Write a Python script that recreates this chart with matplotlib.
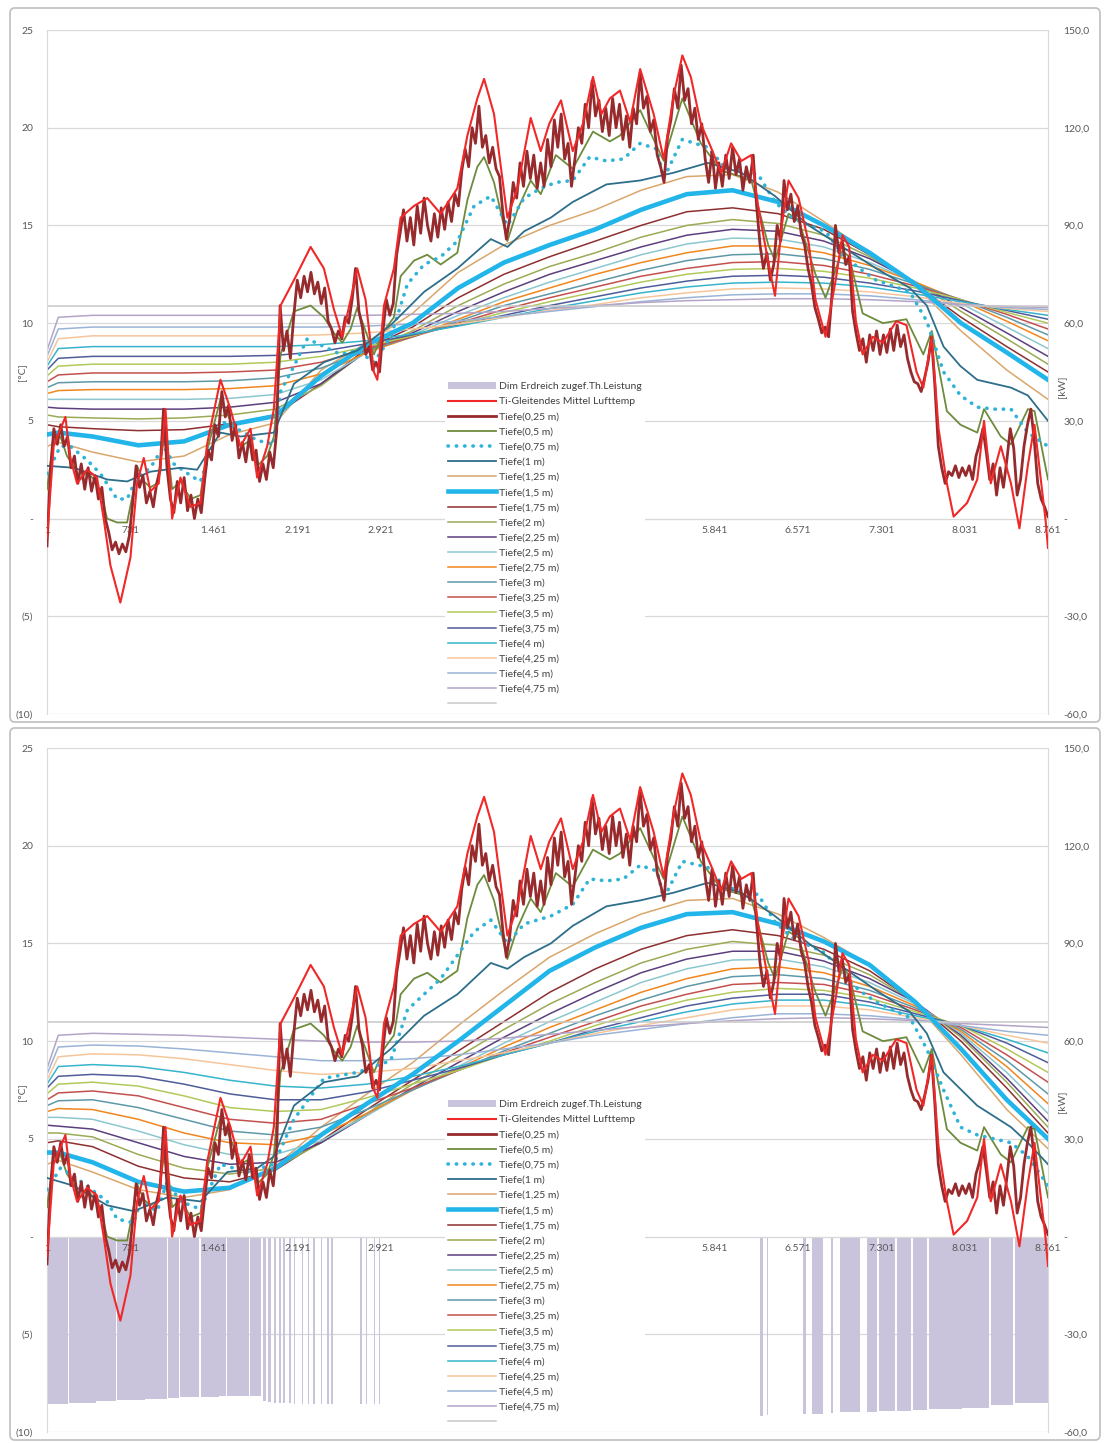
#!/usr/bin/env python3

import numpy as np
import matplotlib
matplotlib.use('Agg')
import matplotlib.pyplot as plt
from matplotlib.patches import FancyBboxPatch, Patch

plt.rcParams['font.family'] = ['Lato', 'DejaVu Sans']

# x axis (hours of the year) and the two y axes;
# the labels 3.651 .. 5.111 sit under the legend in the original, so they stay blank
X_TICKS = [1, 731, 1461, 2191, 2921, 3651, 4381, 5111, 5841, 6571, 7301, 8031, 8761]
X_LABELS = ['1', '731', '1.461', '2.191', '2.921', '', '', '',
            '5.841', '6.571', '7.301', '8.031', '8.761']
T_TICKS = [-10, -5, 0, 5, 10, 15, 20, 25]
T_LABELS = ['(10)', '(5)', '-', '5', '10', '15', '20', '25']
KW_TICKS = [-60, -30, 0, 30, 60, 90, 120, 150]
KW_LABELS = ['-60,0', '-30,0', '-', '30,0', '60,0', '90,0', '120,0', '150,0']

LABELS = ['Dim Erdreich zugef.Th.Leistung', 'Ti-Gleitendes Mittel Lufttemp',
          'Tiefe(0,25 m)', 'Tiefe(0,5 m)', 'Tiefe(0,75 m)', 'Tiefe(1 m)', 'Tiefe(1,25 m)',
          'Tiefe(1,5 m)', 'Tiefe(1,75 m)', 'Tiefe(2 m)', 'Tiefe(2,25 m)', 'Tiefe(2,5 m)',
          'Tiefe(2,75 m)', 'Tiefe(3 m)', 'Tiefe(3,25 m)', 'Tiefe(3,5 m)', 'Tiefe(3,75 m)',
          'Tiefe(4 m)', 'Tiefe(4,25 m)', 'Tiefe(4,5 m)', 'Tiefe(4,75 m)', '']

DEPTH_COLORS = ['#962a2c', '#6e8b3d', '#2fb4d8', '#2d6e8a', '#d9a66b', '#22b5ea', '#8e2f2f',
                '#9aaa55', '#5c3f7e', '#8cc7cf', '#f0861e', '#5e98a8', '#c4504e', '#b1c95a',
                '#4e5d9a', '#36b4cc', '#f7c59a', '#9ab3d6', '#b3a4c8', '#c8c8c8']
RED = '#f02828'
BAR_COLOR = '#c9c4dc'
GRID = '#d9d9d9'
TEXT = '#595959'

# moving average of the air temperature (hour, degC), same in both charts
AIR_MEAN = [(1, -1.0), (59, 3.7), (162, 5.2), (205, 3.1), (264, 1.8), (351, 2.5), (439, 2.1),
            (497, 0.0), (556, -2.4), (643, -4.3), (731, -2.0), (789, 1.8), (848, 3.1), (906, 1.4),
            (979, 1.8), (1038, 5.6), (1096, 0.0), (1169, 2.1), (1256, 0.6), (1344, 0.8), (1402, 3.8),
            (1519, 7.1), (1607, 5.6), (1694, 3.7), (1782, 4.6), (1840, 2.1), (1928, 3.7), (1986, 5.6),
            (2045, 10.9), (2162, 12.2), (2308, 13.9), (2424, 12.8), (2512, 10.7), (2585, 9.3),
            (2658, 11.2), (2716, 12.8), (2789, 11.2), (2862, 7.5), (2892, 7.1), (2950, 10.9),
            (3037, 12.8), (3096, 15.4), (3213, 16.0), (3329, 16.4), (3446, 15.6), (3592, 16.9),
            (3680, 19.6), (3767, 21.5), (3826, 22.5), (3913, 20.7), (4030, 15.4), (4118, 16.9),
            (4234, 20.5), (4322, 18.8), (4396, 20.2), (4499, 21.4), (4602, 18.8), (4691, 20.2),
            (4779, 22.6), (4853, 20.7), (4927, 21.5), (5015, 21.9), (5104, 20.3), (5192, 23.0),
            (5310, 20.7), (5398, 18.4), (5487, 21.7), (5561, 23.7), (5635, 22.6), (5723, 20.2),
            (5811, 19.0), (5900, 17.7), (5988, 19.2), (6077, 18.3), (6165, 18.6), (6224, 16.0),
            (6313, 13.1), (6372, 11.4), (6431, 15.0), (6490, 17.3), (6578, 16.4), (6667, 14.1),
            (6726, 11.2), (6814, 9.3), (6903, 12.2), (6962, 14.5), (7021, 13.9), (7080, 10.1),
            (7139, 8.4), (7227, 9.3), (7316, 9.0), (7434, 10.1), (7522, 9.9), (7611, 7.5),
            (7670, 6.7), (7744, 9.3), (7803, 4.6), (7876, 1.8), (7935, 0.1), (8053, 0.8),
            (8142, 2.0), (8201, 5.0), (8260, 1.8), (8348, 3.7), (8437, 1.8), (8511, -0.5),
            (8584, 2.7), (8643, 4.8), (8702, 1.8), (8740, -0.1), (8761, -1.5)]

# Tiefe 0,25 m, read every 30 hours from hour 1 to 8761
T025 = [-1.4, 2.5, 4.6, 3.8, 4.8, 3.7, 4.2, 2.6, 3.2, 1.8,
        2.8, 1.5, 2.6, 1.4, 2.2, 1.0, 1.6, 0.0, -0.7, -1.6,
        -1.2, -1.8, -1.3, -1.7, -0.9, 0.8, 2.7, 1.6, 2.2, 0.8,
        1.4, 0.6, 1.8, 2.5, 5.6, 2.6, 1.0, 0.3, 1.9, 0.8,
        2.1, 0.4, 1.2, 0.0, 1.0, 0.3, 2.0, 3.5, 3.0, 4.8,
        4.2, 6.5, 5.2, 5.8, 4.0, 4.8, 3.1, 3.9, 2.9, 4.2,
        3.0, 3.5, 1.9, 2.8, 2.0, 3.4, 2.6, 4.5, 10.9, 8.6,
        9.6, 8.2, 10.4, 12.2, 11.3, 12.4, 11.6, 12.6, 11.5, 12.1,
        11.0, 11.8, 10.1, 9.7, 9.0, 9.6, 9.2, 10.3, 10.0, 11.2,
        12.8, 10.6, 9.8, 8.4, 8.8, 7.6, 8.0, 7.5, 9.6, 11.2,
        10.4, 11.0, 13.5, 14.6, 15.8, 14.2, 15.4, 14.0, 16.0, 14.6,
        16.4, 15.0, 14.2, 15.6, 14.4, 15.9, 14.8, 16.2, 15.2, 16.6,
        16.0, 17.8, 18.9, 18.0, 20.0, 19.2, 21.1, 19.0, 19.6, 18.2,
        19.0, 17.9, 17.5, 15.6, 14.3, 15.4, 17.2, 16.4, 18.2, 17.0,
        18.8, 17.4, 18.6, 16.9, 18.2, 17.0, 19.4, 18.0, 20.4, 19.0,
        20.7, 18.4, 19.2, 17.0, 18.4, 20.0, 19.2, 21.2, 20.0, 22.4,
        20.6, 21.4, 19.8, 21.0, 19.6, 21.5, 20.0, 21.2, 19.4, 20.6,
        19.0, 21.0, 20.2, 22.8, 21.0, 21.6, 19.8, 20.4, 18.6, 18.0,
        17.2, 19.5, 20.4, 22.0, 21.0, 23.2, 21.4, 22.0, 20.2, 21.0,
        19.4, 20.2, 18.4, 17.2, 18.8, 16.9, 18.2, 17.0, 18.6, 17.4,
        19.0, 17.6, 18.4, 16.8, 18.0, 17.2, 18.6, 16.0, 14.0, 12.8,
        13.6, 12.2, 13.0, 15.0, 14.2, 17.3, 15.8, 16.6, 15.2, 16.0,
        14.6, 14.0, 12.8, 12.0, 10.8, 10.2, 9.5, 9.8, 9.3, 11.5,
        15.0, 13.6, 14.2, 13.0, 13.4, 10.6, 9.5, 8.6, 9.2, 8.0,
        9.4, 8.6, 9.6, 8.4, 9.4, 8.5, 9.7, 8.6, 9.9, 8.8,
        9.4, 8.2, 7.5, 7.0, 6.9, 6.5, 7.2, 8.0, 9.3, 6.8,
        3.7, 2.6, 1.8, 2.4, 2.2, 2.7, 2.1, 2.6, 2.2, 2.7,
        2.0, 3.2, 3.8, 4.6, 3.4, 2.0, 2.8, 1.2, 2.6, 1.6,
        3.0, 4.6, 3.6, 1.2, 2.0, 3.7, 4.8, 5.6, 4.0, 1.8,
        1.0, 0.6, 0.1]

# Tiefe 0,5 m (hour, degC), same in both charts
T050 = [(1, 1.5), (59, 4.0), (118, 4.2), (176, 3.2), (235, 2.7), (293, 2.0), (351, 2.4),
        (410, 2.0), (468, 1.4), (527, 0.0), (614, -0.2), (702, -0.2), (760, 1.5), (789, 2.7),
        (848, 1.9), (906, 1.6), (965, 1.8), (1038, 4.6), (1096, 1.5), (1169, 1.9), (1257, 1.0),
        (1344, 1.2), (1403, 3.5), (1519, 6.1), (1607, 5.0), (1695, 3.7), (1782, 4.0), (1841, 2.7),
        (1928, 3.2), (1987, 4.2), (2045, 8.4), (2162, 10.6), (2308, 10.9), (2424, 10.3),
        (2512, 9.5), (2585, 9.0), (2658, 9.7), (2716, 10.8), (2789, 9.6), (2862, 8.4), (2950, 9.6),
        (3037, 10.3), (3096, 12.4), (3213, 13.2), (3329, 13.5), (3446, 13.0), (3592, 13.6),
        (3680, 16.3), (3767, 18.0), (3826, 18.5), (3913, 17.2), (4030, 14.2), (4118, 15.8),
        (4234, 17.3), (4322, 16.6), (4454, 18.6), (4602, 17.9), (4779, 19.8), (4927, 19.3),
        (5015, 19.6), (5192, 20.9), (5310, 19.4), (5398, 18.3), (5561, 21.5), (5723, 19.2),
        (5900, 17.8), (6077, 17.5), (6165, 17.3), (6313, 14.0), (6372, 13.2), (6490, 15.6),
        (6578, 15.3), (6726, 12.5), (6814, 11.3), (6962, 13.7), (7021, 13.4), (7139, 10.5),
        (7316, 10.0), (7522, 10.2), (7670, 8.4), (7744, 9.6), (7876, 5.5), (7995, 4.8),
        (8142, 4.4), (8201, 5.6), (8348, 4.2), (8437, 3.8), (8585, 5.6), (8643, 5.5), (8761, 2.0)]

# Tiefe 0,75 m and 1 m (hour, degC), top chart (A) and bottom chart (B)
A_T075 = [(1, 2.3), (118, 3.7), (205, 3.7), (351, 3.0), (468, 2.3), (614, 1.0), (702, 1.0),
          (789, 2.1), (906, 2.6), (1023, 3.7), (1111, 2.8), (1257, 2.2), (1344, 1.9), (1519, 5.0),
          (1695, 4.5), (1841, 4.0), (1987, 3.8), (2045, 6.5), (2162, 7.8), (2279, 9.2), (2425, 8.8),
          (2571, 8.4), (2717, 8.6), (2863, 8.0), (3009, 9.3), (3155, 12.0), (3301, 13.0),
          (3447, 13.4), (3593, 14.2), (3739, 16.0), (3885, 16.5), (4031, 15.0), (4177, 16.4),
          (4323, 16.9), (4454, 17.2), (4602, 17.3), (4750, 18.5), (4897, 18.3), (5045, 18.4),
          (5192, 19.2), (5340, 18.9), (5398, 17.4), (5561, 19.4), (5782, 19.0), (5930, 18.0),
          (6077, 17.8), (6225, 17.6), (6372, 16.2), (6520, 15.4), (6667, 15.0), (6815, 14.7),
          (6962, 13.5), (7110, 12.8), (7257, 12.2), (7405, 11.9), (7552, 11.6), (7700, 10.1),
          (7847, 7.5), (7995, 6.3), (8142, 5.7), (8290, 5.6), (8437, 5.6), (8585, 4.4), (8761, 3.7)]
B_T075 = [(1, 2.4), (118, 3.5), (235, 3.1), (527, 1.8), (614, 0.9), (760, 0.7), (819, 1.8),
          (965, 1.3), (1052, 2.8), (1169, 1.8), (1344, 1.4), (1519, 3.7), (1753, 3.3), (1987, 3.7),
          (2162, 6.0), (2425, 8.1), (2717, 8.4), (3009, 9.0), (3155, 11.6), (3447, 13.2),
          (3739, 15.6), (3885, 16.2), (4031, 15.0), (4177, 16.0), (4410, 16.4), (4602, 17.0),
          (4750, 18.3), (4897, 18.2), (5045, 18.3), (5192, 19.0), (5340, 18.7), (5398, 17.3),
          (5561, 19.2), (5782, 18.9), (5930, 17.9), (6077, 17.7), (6225, 17.5), (6372, 16.1),
          (6520, 15.3), (6667, 14.9), (6815, 14.5), (6962, 13.4), (7110, 12.6), (7257, 12.0),
          (7405, 11.6), (7552, 11.2), (7700, 9.6), (7847, 7.5), (7995, 5.6), (8142, 5.2),
          (8437, 4.8), (8585, 4.1), (8761, 2.6)]
A_T100 = [(1, 2.7), (235, 2.6), (527, 2.0), (702, 1.9), (906, 2.4), (1169, 2.6), (1315, 2.5),
          (1519, 4.4), (1695, 4.2), (1987, 4.4), (2162, 6.9), (2425, 8.0), (2717, 8.6), (3009, 9.9),
          (3301, 11.6), (3593, 12.8), (3885, 14.3), (4031, 13.9), (4177, 14.7), (4410, 15.4),
          (4602, 16.2), (4897, 17.1), (5192, 17.3), (5487, 17.7), (5782, 18.2), (6077, 17.7),
          (6372, 16.5), (6667, 15.0), (6962, 13.9), (7257, 12.8), (7552, 11.8), (7700, 10.9),
          (7847, 8.8), (7995, 7.8), (8142, 7.1), (8437, 6.7), (8585, 6.3), (8761, 5.0)]
B_T100 = [(1, 3.0), (235, 2.6), (527, 1.6), (760, 1.3), (1052, 2.0), (1344, 1.8), (1578, 3.3),
          (1841, 3.5), (1987, 4.1), (2162, 6.7), (2425, 7.9), (2717, 8.2), (3009, 9.6), (3301, 11.3),
          (3593, 12.4), (3885, 14.0), (4031, 13.7), (4177, 14.3), (4410, 15.0), (4602, 15.9),
          (4897, 16.9), (5192, 17.2), (5487, 17.6), (5782, 18.1), (6077, 17.6), (6372, 16.4),
          (6667, 15.0), (6962, 13.8), (7257, 12.6), (7552, 11.5), (7700, 10.4), (7847, 8.4),
          (8142, 6.7), (8437, 5.6), (8585, 4.8), (8761, 3.7)]

# deeper layers, read at these hours
HOURS_DEEP = [1, 100, 400, 800, 1200, 1600, 2000, 2400, 2800, 3200, 3600, 4000,
              4400, 4800, 5200, 5600, 6000, 6400, 6800, 7200, 7600, 8000, 8400, 8761]

A_T125 = [3.7, 3.9, 3.4, 2.9, 3.2, 4.3, 4.9, 7.6, 9.0, 10.5, 12.6, 14.0, 15.0, 15.8, 16.8, 17.5, 17.6, 16.7, 15.2, 13.6, 11.9, 9.6, 7.6, 6.1]
A_T150 = [4.3, 4.4, 4.2, 3.75, 3.95, 4.8, 5.25, 7.3, 8.9, 10.0, 11.8, 13.1, 14.0, 14.8, 15.8, 16.6, 16.8, 16.2, 15.0, 13.6, 12.0, 10.0, 8.5, 7.1]
A_T175 = [4.8, 4.7, 4.6, 4.5, 4.55, 4.85, 5.3, 6.9, 8.7, 9.8, 11.3, 12.5, 13.4, 14.2, 15.0, 15.7, 15.9, 15.6, 14.8, 13.5, 12.0, 10.3, 8.8, 7.5]
A_T200 = [5.3, 5.2, 5.15, 5.1, 5.15, 5.3, 5.6, 6.8, 8.6, 9.6, 10.9, 12.0, 12.9, 13.6, 14.4, 15.0, 15.3, 15.1, 14.5, 13.4, 12.1, 10.6, 9.2, 7.9]
A_T225 = [5.7, 5.65, 5.6, 5.6, 5.6, 5.7, 5.95, 6.9, 8.55, 9.5, 10.6, 11.6, 12.5, 13.2, 13.9, 14.5, 14.8, 14.7, 14.2, 13.3, 12.1, 10.8, 9.5, 8.3]
A_T250 = [6.1, 6.1, 6.1, 6.1, 6.1, 6.15, 6.35, 7.1, 8.5, 9.4, 10.4, 11.3, 12.1, 12.8, 13.5, 14.05, 14.35, 14.3, 13.9, 13.1, 12.1, 11.0, 9.8, 8.7]
A_T275 = [6.4, 6.55, 6.6, 6.6, 6.6, 6.65, 6.8, 7.4, 8.5, 9.3, 10.2, 11.1, 11.8, 12.5, 13.1, 13.6, 13.95, 13.95, 13.6, 12.95, 12.1, 11.15, 10.1, 9.1]
A_T300 = [6.7, 6.95, 7.0, 7.0, 7.0, 7.05, 7.2, 7.7, 8.6, 9.3, 10.1, 10.9, 11.5, 12.1, 12.7, 13.2, 13.5, 13.55, 13.3, 12.75, 12.0, 11.2, 10.3, 9.4]
A_T325 = [7.0, 7.35, 7.45, 7.45, 7.45, 7.5, 7.6, 8.0, 8.7, 9.3, 10.0, 10.7, 11.3, 11.85, 12.4, 12.8, 13.1, 13.15, 12.95, 12.5, 11.9, 11.2, 10.45, 9.7]
A_T350 = [7.3, 7.8, 7.9, 7.9, 7.9, 7.9, 8.0, 8.3, 8.8, 9.35, 9.95, 10.55, 11.1, 11.6, 12.1, 12.5, 12.75, 12.8, 12.65, 12.3, 11.8, 11.2, 10.55, 10.0]
A_T375 = [7.6, 8.2, 8.3, 8.3, 8.3, 8.3, 8.35, 8.55, 8.95, 9.4, 9.9, 10.4, 10.9, 11.35, 11.8, 12.15, 12.4, 12.45, 12.35, 12.05, 11.65, 11.15, 10.65, 10.2]
A_T400 = [7.8, 8.7, 8.8, 8.8, 8.8, 8.8, 8.8, 8.9, 9.1, 9.45, 9.85, 10.3, 10.75, 11.15, 11.55, 11.85, 12.05, 12.1, 12.05, 11.85, 11.5, 11.1, 10.7, 10.4]
A_T425 = [8.0, 9.2, 9.35, 9.35, 9.35, 9.35, 9.35, 9.4, 9.5, 9.7, 9.95, 10.3, 10.65, 10.95, 11.3, 11.55, 11.75, 11.8, 11.75, 11.6, 11.35, 11.0, 10.75, 10.6]
A_T450 = [8.3, 9.7, 9.8, 9.8, 9.8, 9.8, 9.8, 9.8, 9.85, 9.95, 10.1, 10.35, 10.6, 10.85, 11.1, 11.3, 11.45, 11.5, 11.5, 11.4, 11.2, 10.95, 10.8, 10.7]
A_T475 = [8.6, 10.3, 10.4, 10.4, 10.4, 10.4, 10.4, 10.4, 10.4, 10.45, 10.5, 10.6, 10.75, 10.9, 11.05, 11.15, 11.2, 11.25, 11.25, 11.2, 11.1, 10.95, 10.85, 10.8]
A_T500 = [10.9, 10.9, 10.9, 10.9, 10.9, 10.9, 10.9, 10.9, 10.9, 10.9, 10.9, 10.9, 10.9, 10.9, 10.9, 10.9, 10.9, 10.9, 10.9, 10.9, 10.9, 10.9, 10.9, 10.9]

B_T125 = [3.7, 3.9, 3.3, 2.4, 2.0, 2.4, 3.6, 5.6, 7.3, 8.9, 10.8, 12.6, 14.3, 15.5, 16.5, 17.2, 17.3, 16.5, 15.3, 13.9, 11.9, 9.3, 6.5, 4.5]
B_T150 = [4.3, 4.3, 3.8, 2.8, 2.3, 2.5, 3.5, 5.2, 6.8, 8.3, 10.0, 11.8, 13.6, 14.8, 15.8, 16.5, 16.6, 16.0, 15.1, 13.9, 12.0, 9.6, 7.0, 5.0]
B_T175 = [4.8, 4.9, 4.6, 3.6, 3.0, 2.8, 3.4, 4.9, 6.5, 8.0, 9.5, 11.0, 12.5, 13.7, 14.7, 15.4, 15.7, 15.4, 14.7, 13.6, 12.0, 10.0, 7.6, 5.3]
B_T200 = [5.3, 5.3, 5.1, 4.2, 3.5, 3.2, 3.5, 4.8, 6.3, 7.8, 9.2, 10.6, 11.9, 13.0, 14.0, 14.7, 15.1, 14.9, 14.4, 13.4, 12.0, 10.2, 7.9, 5.6]
B_T225 = [5.7, 5.65, 5.5, 4.8, 4.1, 3.7, 3.8, 4.8, 6.2, 7.6, 8.9, 10.2, 11.4, 12.5, 13.5, 14.2, 14.6, 14.6, 14.1, 13.2, 12.0, 10.3, 8.1, 5.9]
B_T250 = [6.1, 6.1, 6.0, 5.4, 4.7, 4.2, 4.2, 4.9, 6.2, 7.5, 8.7, 9.9, 11.0, 12.0, 13.0, 13.7, 14.15, 14.2, 13.8, 13.0, 11.9, 10.4, 8.4, 6.3]
B_T275 = [6.4, 6.55, 6.5, 6.0, 5.3, 4.8, 4.7, 5.2, 6.3, 7.5, 8.6, 9.7, 10.7, 11.6, 12.5, 13.2, 13.7, 13.8, 13.5, 12.8, 11.8, 10.5, 8.7, 6.8]
B_T300 = [6.7, 6.95, 7.0, 6.6, 6.0, 5.4, 5.2, 5.6, 6.5, 7.5, 8.5, 9.5, 10.4, 11.3, 12.1, 12.8, 13.3, 13.4, 13.2, 12.6, 11.7, 10.6, 9.0, 7.3]
B_T325 = [7.0, 7.35, 7.45, 7.2, 6.6, 6.0, 5.8, 6.0, 6.8, 7.6, 8.5, 9.4, 10.2, 11.0, 11.8, 12.4, 12.9, 13.0, 12.9, 12.4, 11.6, 10.7, 9.3, 7.9]
B_T350 = [7.3, 7.8, 7.9, 7.7, 7.2, 6.6, 6.4, 6.5, 7.1, 7.8, 8.5, 9.3, 10.0, 10.8, 11.5, 12.1, 12.5, 12.7, 12.6, 12.2, 11.5, 10.8, 9.6, 8.4]
B_T375 = [7.6, 8.2, 8.3, 8.2, 7.8, 7.3, 7.0, 7.0, 7.4, 8.0, 8.6, 9.3, 9.9, 10.6, 11.2, 11.8, 12.2, 12.4, 12.4, 12.0, 11.4, 10.8, 9.9, 8.9]
B_T400 = [7.8, 8.7, 8.8, 8.7, 8.4, 8.0, 7.7, 7.6, 7.8, 8.2, 8.7, 9.3, 9.9, 10.5, 11.0, 11.5, 11.9, 12.1, 12.1, 11.8, 11.3, 10.8, 10.1, 9.4]
B_T425 = [8.0, 9.2, 9.35, 9.3, 9.1, 8.8, 8.5, 8.3, 8.4, 8.6, 9.0, 9.4, 9.9, 10.4, 10.8, 11.2, 11.6, 11.8, 11.8, 11.6, 11.2, 10.8, 10.3, 9.9]
B_T450 = [8.3, 9.7, 9.8, 9.75, 9.6, 9.4, 9.2, 9.0, 9.0, 9.1, 9.3, 9.6, 9.9, 10.3, 10.6, 10.9, 11.2, 11.4, 11.4, 11.3, 11.1, 10.8, 10.5, 10.3]
B_T475 = [8.6, 10.3, 10.4, 10.35, 10.3, 10.2, 10.1, 10.0, 9.95, 9.95, 10.0, 10.15, 10.35, 10.55, 10.75, 10.9, 11.05, 11.15, 11.2, 11.15, 11.05, 10.9, 10.8, 10.7]
B_T500 = [11.0, 11.0, 11.0, 11.0, 11.0, 11.0, 11.0, 11.0, 11.0, 11.0, 11.0, 11.0, 11.0, 11.0, 11.0, 11.0, 11.0, 11.0, 11.0, 11.0, 11.0, 11.0, 11.0, 11.0]

# heat taken from the ground (bottom chart only): running periods and kW
BAR_START = [1, 190, 430, 610, 860, 1060, 1165, 1290, 1345, 1510, 1575, 1710, 1775, 1890, 1935,
             1985, 2030, 2070, 2120, 2165, 2230, 2285, 2330, 2400, 2450, 2490, 2740, 2790, 2860,
             2905, 6240, 6300, 6620, 6700, 6860, 6940, 7175, 7280, 7440, 7580, 7720, 8010, 8260, 8470]
BAR_END = [184, 426, 606, 855, 1055, 1155, 1285, 1335, 1505, 1566, 1705, 1766, 1872, 1915, 1960,
           2005, 2045, 2085, 2135, 2175, 2245, 2295, 2350, 2410, 2465, 2500, 2760, 2805, 2875,
           2915, 6270, 6310, 6640, 6790, 6880, 7120, 7265, 7425, 7565, 7705, 8005, 8245, 8455, 8761]
BAR_KW = [-51.5, -51.0, -50.5, -50.2, -49.9, -49.6, -49.4, -49.3, -49.2, -49.0, -49.0, -48.9, -48.8,
          -50.5, -50.8, -51.0, -51.0, -51.2, -51.2, -51.3, -51.3, -51.4, -51.4, -51.5, -51.5, -51.5,
          -51.5, -51.5, -51.5, -51.5, -55.0, -54.9, -54.6, -54.5, -54.3, -54.0, -53.8, -53.6, -53.4,
          -53.2, -53.0, -52.5, -51.8, -51.2]


def pairs(points):
    hours, values = zip(*points)
    return list(hours), list(values)


def depth_style(i):
    """Line style of the i-th depth series (0 = 0,25 m)."""
    style = dict(color=DEPTH_COLORS[i], linewidth=1.1, zorder=2)
    if i == 0:
        style.update(linewidth=2.0, zorder=5)
    elif i == 1:
        style.update(linewidth=1.3, zorder=4)
    elif i == 2:
        style.update(linewidth=2.6, linestyle=(0, (0.1, 2.2)), dash_capstyle='round', zorder=4)
    elif i == 3:
        style.update(linewidth=1.3, zorder=4)
    elif i == 5:
        style.update(linewidth=3.3, zorder=3)
    return style


def draw_panel(fig, rect, layers, bars):
    ax = fig.add_axes(rect)
    ax2 = ax.twinx()
    ax.set_zorder(ax2.get_zorder() + 1)
    ax.patch.set_visible(False)

    ax.set_xlim(1, 8761)
    ax.set_ylim(-10, 25)
    ax2.set_ylim(-60, 150)

    # grid lives on the secondary axis so the bars cover it
    ax2.set_yticks(KW_TICKS, KW_LABELS)
    ax2.yaxis.grid(True, color=GRID, linewidth=0.9)
    ax2.set_axisbelow(True)
    ax.set_yticks(T_TICKS, T_LABELS)
    ax.set_xticks(X_TICKS, X_LABELS)

    ax.spines['bottom'].set_position(('data', 0))
    ax.spines['bottom'].set_color(GRID)
    ax.spines['top'].set_visible(False)
    ax.spines['right'].set_visible(False)
    ax.spines['left'].set_color(GRID)
    for side in ('left', 'top', 'bottom'):
        ax2.spines[side].set_visible(False)
    ax2.spines['right'].set_color(GRID)

    ax.tick_params(axis='x', length=0, pad=5, labelsize=7.5, labelcolor=TEXT)
    ax.tick_params(axis='y', length=0, pad=10, labelsize=7.5, labelcolor=TEXT)
    ax2.tick_params(axis='y', length=0, pad=11, labelsize=7.5, labelcolor=TEXT)

    if bars is not None:
        start, end, kw = bars
        ax2.bar(start, kw, width=np.array(end) - np.array(start), align='edge',
                color=BAR_COLOR, linewidth=0, zorder=1)

    handles = [Patch(facecolor=BAR_COLOR, edgecolor='none')]
    x, y = pairs(AIR_MEAN)
    handles += ax.plot(x, y, color=RED, linewidth=1.5, zorder=6)
    for i, (x, y) in enumerate(layers):
        handles += ax.plot(x, y, **depth_style(i))

    leg = ax.legend(handles, LABELS, loc='upper left', bbox_to_anchor=(0.3976, 0.49),
                    frameon=True, facecolor='white', edgecolor='none', framealpha=1,
                    fontsize=7.5, handlelength=4.6, handletextpad=0.3, labelspacing=0.56,
                    borderpad=0.3, borderaxespad=0)
    for text in leg.get_texts():
        text.set_color('#404040')
    leg.set_zorder(10)
    return ax, ax2


def layer_list(t075, t100, deep):
    brown_hours = np.linspace(1, 8761, len(T025))
    layers = [(brown_hours, T025), pairs(T050), pairs(t075), pairs(t100)]
    for values in deep:
        layers.append((HOURS_DEEP, values))
    return layers


def main():
    fig = plt.figure(figsize=(11.06, 14.43), dpi=100)
    W, H = 1106, 1443

    for top, bottom in ((8, 722), (728, 1440)):
        fig.patches.append(FancyBboxPatch((10 / W, 1 - bottom / H), 1090 / W, (bottom - top) / H,
                                          boxstyle='round,pad=0,rounding_size=0.004',
                                          transform=fig.transFigure, facecolor='white',
                                          edgecolor='#bfbfbf', linewidth=1.2, zorder=-1))

    deep_a = [A_T125, A_T150, A_T175, A_T200, A_T225, A_T250, A_T275, A_T300, A_T325,
              A_T350, A_T375, A_T400, A_T425, A_T450, A_T475, A_T500]
    deep_b = [B_T125, B_T150, B_T175, B_T200, B_T225, B_T250, B_T275, B_T300, B_T325,
              B_T350, B_T375, B_T400, B_T425, B_T450, B_T475, B_T500]

    panels = [
        (30, layer_list(A_T075, A_T100, deep_a), None, 372, 387),
        (748, layer_list(B_T075, B_T100, deep_b), (BAR_START, BAR_END, BAR_KW), 1092, 1102),
    ]
    for top, layers, bars, ylab_c, ylab_k in panels:
        rect = [47 / W, 1 - (top + 684) / H, 1001 / W, 684 / H]
        draw_panel(fig, rect, layers, bars)
        fig.text(22 / W, 1 - ylab_c / H, '[°C]', rotation=90, ha='center', va='center',
                 fontsize=7.5, color=TEXT)
        fig.text(1062 / W, 1 - ylab_k / H, '[kW]', rotation=90, ha='center', va='center',
                 fontsize=7.5, color=TEXT)

    fig.savefig('out.png', dpi=100)


if __name__ == '__main__':
    main()
